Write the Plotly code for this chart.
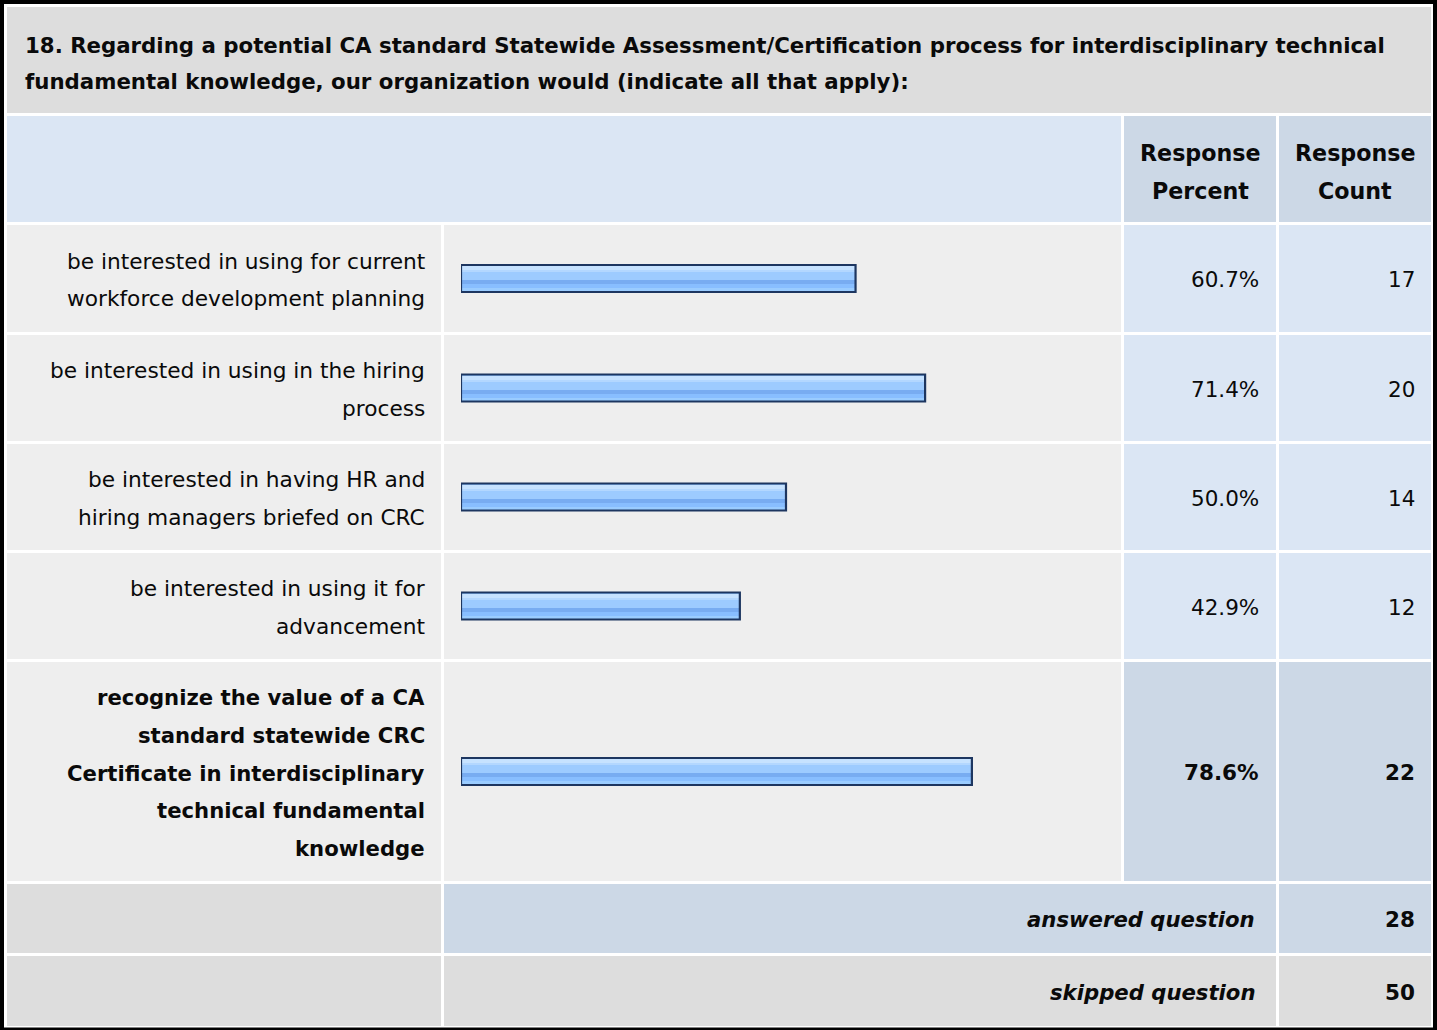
import plotly.graph_objects as go

# ---------------- data ----------------
title_lines = [
    "18. Regarding a potential CA standard Statewide Assessment/Certification process for interdisciplinary technical",
    "fundamental knowledge, our organization would (indicate all that apply):",
]
header_pct = ["Response", "Percent"]
header_cnt = ["Response", "Count"]
answer_labels = [
    ["be interested in using for current", "workforce development planning"],
    ["be interested in using in the hiring", "process"],
    ["be interested in having HR and", "hiring managers briefed on CRC"],
    ["be interested in using it for", "advancement"],
    ["recognize the value of a CA", "standard statewide CRC", "Certificate in interdisciplinary",
     "technical fundamental", "knowledge"],
]
response_percent = [60.7, 71.4, 50.0, 42.9, 78.6]
response_count = [17, 20, 14, 12, 22]
highlight = [False, False, False, False, True]
summary_labels = ["answered question", "skipped question"]
summary_values = [28, 50]

# ---------------- layout geometry (pixels) ----------------
W, H = 1437, 1030
col_label = (7, 441)
col_bar = (444, 1121)
col_pct = (1124, 1276)
col_cnt = (1279, 1431)
row_title = (7, 113)
row_header = (116, 222)
row_answers = [(225, 332), (335, 441), (444, 550), (553, 659), (662, 881)]
row_answered = (884, 953)
row_skipped = (956, 1026)
bar_axis_px = (461, 1111)   # 0% .. 100%
line_h = 37.7

C_GRAY = "#DDDDDD"
C_LIGHT = "#EEEEEE"
C_BLUE = "#DBE6F4"
C_BLUE2 = "#CCD8E6"
FONT = "DejaVu Sans, Verdana, sans-serif"
FS = 21.7

shapes = []


def rect(x0, x1, y0, y1, color):
    shapes.append(dict(type="rect", xref="x", yref="y", x0=x0, x1=x1, y0=y0, y1=y1,
                       fillcolor=color, line=dict(width=0), layer="below"))


# outer frame: black background with white inner area
rect(4, 1433, 4, 1027.5, "white")
rect(col_label[0], col_cnt[1], row_title[0], row_title[1], C_GRAY)
rect(col_label[0], col_bar[1], row_header[0], row_header[1], C_BLUE)
rect(col_pct[0], col_pct[1], row_header[0], row_header[1], C_BLUE2)
rect(col_cnt[0], col_cnt[1], row_header[0], row_header[1], C_BLUE2)
for (y0, y1), hl in zip(row_answers, highlight):
    rect(col_label[0], col_label[1], y0, y1, C_LIGHT)
    rect(col_bar[0], col_bar[1], y0, y1, C_LIGHT)
    c = C_BLUE2 if hl else C_BLUE
    rect(col_pct[0], col_pct[1], y0, y1, c)
    rect(col_cnt[0], col_cnt[1], y0, y1, c)
rect(col_label[0], col_label[1], row_answered[0], row_answered[1], C_GRAY)
rect(col_bar[0], col_pct[1], row_answered[0], row_answered[1], C_BLUE2)
rect(col_cnt[0], col_cnt[1], row_answered[0], row_answered[1], C_BLUE2)
rect(col_label[0], col_label[1], row_skipped[0], row_skipped[1], C_GRAY)
rect(col_bar[0], col_pct[1], row_skipped[0], row_skipped[1], C_GRAY)
rect(col_cnt[0], col_cnt[1], row_skipped[0], row_skipped[1], C_GRAY)

annotations = []


def text(x, y, s, anchor="right", size=FS, bold=False, italic=False):
    t = s
    if bold:
        t = "<b>" + t + "</b>"
    if italic:
        t = "<i>" + t + "</i>"
    annotations.append(dict(x=x, y=y, xref="x", yref="y", text=t, showarrow=False,
                            xanchor=anchor, yanchor="middle",
                            font=dict(family=FONT, size=size, color="#0A0A0A")))


# title
for i, ln in enumerate(title_lines):
    text(23, 45 + i * 36, ln, anchor="left", size=21.3, bold=True)
# header
for i, ln in enumerate(header_pct):
    text((col_pct[0] + col_pct[1]) / 2, 153 + i * 38, ln, anchor="center", size=22.2, bold=True)
for i, ln in enumerate(header_cnt):
    text((col_cnt[0] + col_cnt[1]) / 2, 153 + i * 38, ln, anchor="center", size=22.2, bold=True)

row_centers = []
for (y0, y1), lines, pct, cnt, hl in zip(row_answers, answer_labels, response_percent,
                                         response_count, highlight):
    c = (y0 + y1) / 2
    row_centers.append(c)
    n = len(lines)
    for i, ln in enumerate(lines):
        text(col_label[1] - 14, c + (i - (n - 1) / 2) * line_h + 1.5, ln, bold=hl,
             size=21.2 if hl else FS)
    text(col_pct[1] - 15, c + 1, f"{pct:.1f}%", bold=hl, size=21.5)
    text(col_cnt[1] - 14, c + 1, f"{cnt}", bold=hl, size=21.5)

for (y0, y1), lab, val in zip([row_answered, row_skipped], summary_labels, summary_values):
    c = (y0 + y1) / 2
    text(col_pct[1] - 19, c + 1, lab, bold=True, italic=True, size=21.2)
    text(col_cnt[1] - 14, c + 1, str(val), bold=True, size=21.5)

# ---------------- bars (gradient imitated with stacked bands) ----------------
bands = [  # (offset, width, color) relative to the row centre, in pixels
    (-13.0, 26.0, "#92C5FF"),
    (-12.5, 4.0, "#C6E2FF"),
    (-8.5, 2.0, "#B3D7FF"),
    (-6.5, 8.0, "#9DCBFF"),
    (1.5, 4.0, "#78ACF1"),
    (5.5, 4.0, "#88BEFF"),
    (9.5, 3.0, "#9ACCFF"),
]
fig = go.Figure()
for off, wd, col in bands:
    fig.add_trace(go.Bar(x=response_percent, y=row_centers, base=0, orientation="h",
                         width=wd, offset=off, marker=dict(color=col, line=dict(width=0)),
                         xaxis="x2", yaxis="y", hoverinfo="skip", showlegend=False))
fig.add_trace(go.Bar(x=response_percent, y=row_centers, base=0, orientation="h",
                     width=27, offset=-13.5,
                     marker=dict(color="rgba(0,0,0,0)", line=dict(width=2.2, color="#1D3660")),
                     xaxis="x2", yaxis="y", hoverinfo="skip", showlegend=False))

fig.update_layout(
    width=W, height=H, margin=dict(l=0, r=0, t=0, b=0),
    paper_bgcolor="black", plot_bgcolor="rgba(0,0,0,0)",
    barmode="overlay", bargap=0,
    xaxis=dict(range=[0, W], visible=False, fixedrange=True),
    yaxis=dict(range=[H, 0], visible=False, fixedrange=True),
    xaxis2=dict(domain=[bar_axis_px[0] / W, bar_axis_px[1] / W], range=[0, 100],
                anchor="y", visible=False, fixedrange=True),
    shapes=shapes, annotations=annotations, showlegend=False,
)
fig.write_html("out.html", config={"displayModeBar": False, "staticPlot": True})
